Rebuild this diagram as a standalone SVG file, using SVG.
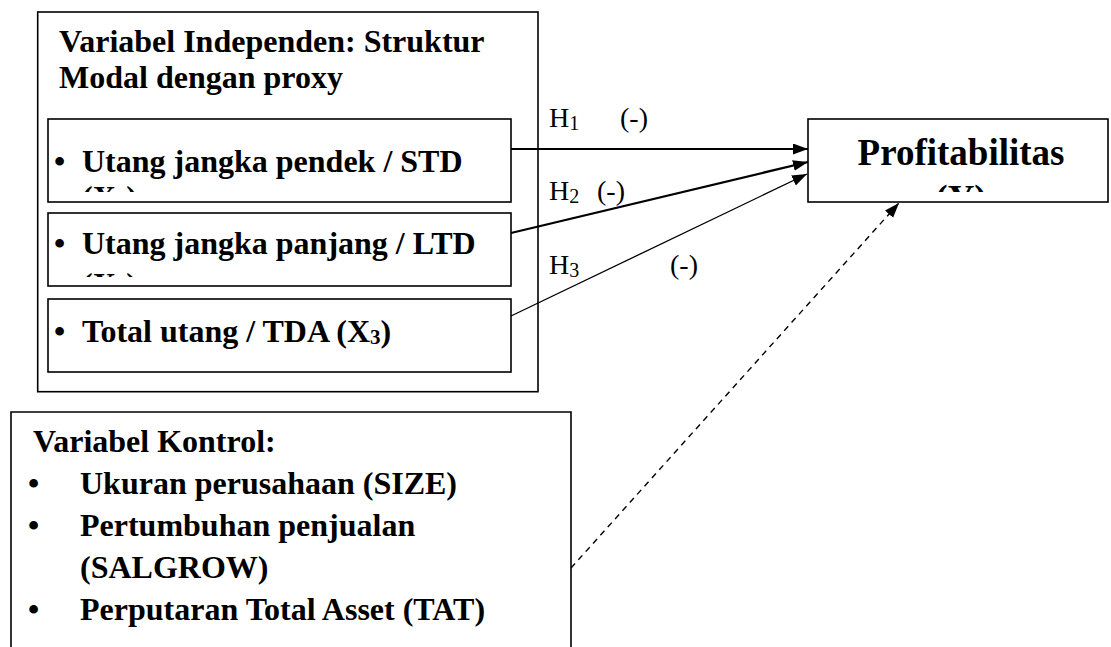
<svg xmlns="http://www.w3.org/2000/svg" width="1111" height="647" viewBox="0 0 1111 647">
  <style>
    .box { fill: #fff; stroke: #000; stroke-width: 1.6; }
    .bold { font-family: "Liberation Serif", "Times New Roman", serif; font-weight: bold; font-size: 32px; fill: #000; }
    .big { font-family: "Liberation Serif", "Times New Roman", serif; font-weight: bold; font-size: 37px; fill: #000; }
    .lbl { font-family: "Liberation Serif", "Times New Roman", serif; font-size: 28px; fill: #000; }
    .link { fill: none; stroke: #000; }
  </style>
  <defs>
    <marker id="head" markerUnits="userSpaceOnUse" markerWidth="16" markerHeight="12" refX="15" refY="5.5" orient="auto">
      <path d="M0,0 L15,5.5 L0,11 Z" fill="#000"/>
    </marker>
    <clipPath id="clip-x1"><rect x="48" y="119" width="463" height="73"/></clipPath>
    <clipPath id="clip-x2"><rect x="48" y="213" width="463" height="64"/></clipPath>
    <clipPath id="clip-y"><rect x="808" y="119" width="300" height="73"/></clipPath>
  </defs>

  <!-- independent variable group -->
  <g id="independen">
    <rect class="box" x="37.7" y="12" width="500.3" height="379.7"/>
    <text class="bold" x="59" y="52">Variabel Independen: Struktur</text>
    <text class="bold" x="59" y="88">Modal dengan proxy</text>
  </g>

  <g id="std">
    <rect class="box" x="48" y="119" width="463" height="83"/>
    <g clip-path="url(#clip-x1)">
      <text class="bold" x="54" y="172">•</text>
      <text class="bold" x="82" y="172">Utang jangka pendek / STD</text>
      <text class="bold" x="82" y="208">(X<tspan font-size="21" dy="4">1</tspan><tspan dy="-4">)</tspan></text>
    </g>
  </g>

  <g id="ltd">
    <rect class="box" x="48" y="213" width="463" height="73"/>
    <g clip-path="url(#clip-x2)">
      <text class="bold" x="54" y="254">•</text>
      <text class="bold" x="82" y="254">Utang jangka panjang / LTD</text>
      <text class="bold" x="82" y="295">(X<tspan font-size="21" dy="4">2</tspan><tspan dy="-4">)</tspan></text>
    </g>
  </g>

  <g id="tda">
    <rect class="box" x="48" y="299" width="463" height="73"/>
    <text class="bold" x="54" y="342">•</text>
    <text class="bold" x="82" y="342">Total utang / TDA (X<tspan font-size="21" dy="2">3</tspan><tspan dy="-2">)</tspan></text>
  </g>

  <!-- dependent variable -->
  <g id="profitabilitas">
    <rect class="box" x="808" y="119" width="300" height="83"/>
    <g clip-path="url(#clip-y)">
      <text class="big" x="961" y="165" text-anchor="middle">Profitabilitas</text>
      <text class="big" x="961" y="211" text-anchor="middle">(Y)</text>
    </g>
  </g>

  <!-- control variables -->
  <g id="kontrol">
    <path class="box" d="M11,660 V412 H571 V660"/>
    <text class="bold" x="33" y="452">Variabel Kontrol:</text>
    <text class="bold" x="28" y="494">•</text>
    <text class="bold" x="80" y="494">Ukuran perusahaan (SIZE)</text>
    <text class="bold" x="28" y="536">•</text>
    <text class="bold" x="80" y="536">Pertumbuhan penjualan</text>
    <text class="bold" x="80" y="578">(SALGROW)</text>
    <text class="bold" x="28" y="620">•</text>
    <text class="bold" x="80" y="620">Perputaran Total Asset (TAT)</text>
  </g>

  <!-- connectors -->
  <g id="connectors">
    <line class="link" x1="511" y1="149" x2="808" y2="149" stroke-width="2" marker-end="url(#head)"/>
    <line class="link" x1="511" y1="233" x2="808" y2="162" stroke-width="2.2" marker-end="url(#head)"/>
    <line class="link" x1="511" y1="316" x2="807" y2="174" stroke-width="1.3" marker-end="url(#head)"/>
    <line class="link" x1="571" y1="568" x2="899" y2="203" stroke-width="1.4" stroke-dasharray="6 5" marker-end="url(#head)"/>
  </g>

  <!-- hypothesis labels -->
  <g id="labels">
    <text class="lbl" x="549" y="127">H<tspan font-size="20" dy="3">1</tspan></text>
    <text class="lbl" x="620" y="127">(-)</text>
    <text class="lbl" x="549" y="200">H<tspan font-size="20" dy="3">2</tspan></text>
    <text class="lbl" x="597" y="200">(-)</text>
    <text class="lbl" x="549" y="274">H<tspan font-size="20" dy="3">3</tspan></text>
    <text class="lbl" x="670" y="274">(-)</text>
  </g>
</svg>
